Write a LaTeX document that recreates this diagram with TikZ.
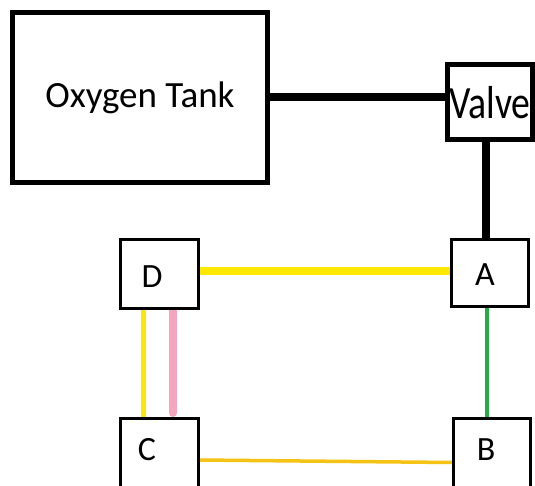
\documentclass[tikz,border=0pt]{standalone}
\usepackage{fontspec}
\usepackage{graphicx}
\setmainfont{Carlito}
\usetikzlibrary{calc,backgrounds}
\definecolor{yel}{RGB}{255,232,0}
\definecolor{gold}{RGB}{245,195,20}
\definecolor{grn}{RGB}{40,170,70}
\definecolor{pnk}{RGB}{244,166,188}
\begin{document}
\begin{tikzpicture}[x=1pt,y=-1pt,
  bigbox/.style={draw,line width=5pt,inner sep=0pt,fill=white,font=\fontsize{37}{40}\selectfont},
  smallbox/.style={draw,line width=3pt,inner sep=0pt,fill=white},
  lbl/.style={font=\fontsize{34}{36}\selectfont,inner sep=0pt}]
\useasboundingbox (0,0) rectangle (535,486);
\clip (0,0) rectangle (535,486);
\node[bigbox,minimum width=255pt,minimum height=170pt] (tank) at (140,97.5) {Oxygen Tank};
\node[bigbox,minimum width=84.5pt,minimum height=74.5pt] (valve) at (489.75,102.25) {\scalebox{1.02}[1.25]{Valve}};
\node[smallbox,minimum width=76.5pt,minimum height=66pt,label={[lbl,xshift=-4.75pt,yshift=-2pt]center:A}] (A) at (489.75,273) {};
\node[smallbox,minimum width=78pt,minimum height=68pt,label={[lbl,xshift=-7pt,yshift=-3pt]center:D}] (D) at (159,274) {};
\node[smallbox,minimum width=78pt,minimum height=71.5pt,label={[lbl,xshift=-12pt,yshift=4.25pt]center:C}] (C) at (159,454.25) {};
\node[smallbox,minimum width=76.5pt,minimum height=72pt,label={[lbl,xshift=-5.75pt,yshift=4pt]center:B}] (B) at (491.75,454) {};
\begin{scope}[on background layer]
\fill[white] (0,0) rectangle (535,486);
\draw[line width=8pt,line cap=round] (tank.east) -- (tank.east -| valve.west);
\draw[line width=8pt] ($(valve.south)+(-4,0)$) -- ($(A.north)+(-4,0)$);
\draw[yel,line width=8pt] ($(D.east)+(0,-3)$) -- ($(A.west)+(0,-2)$);
\draw[yel,line width=5pt] ($(D.south)+(-16,0)$) -- ($(C.north)+(-16,0)$);
\draw[pnk,line width=8pt,line cap=round] ($(D.south)+(13.7,-1)$) -- ($(C.north)+(13.7,-4)$);
\draw[grn,line width=4.5pt] ($(A.south)+(-3,0)$) -- ($(B.north)+(-5,0)$);
\draw[gold,line width=3.5pt] ($(C.east)+(0,5.75)$) -- ($(B.west)+(0,8.5)$);
\end{scope}
\end{tikzpicture}
\end{document}
